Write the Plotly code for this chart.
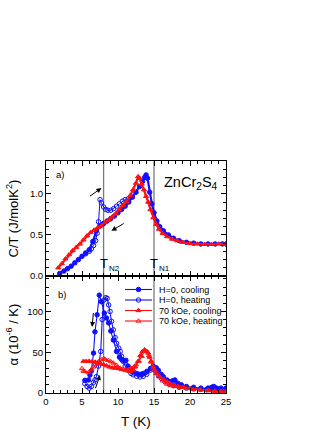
import plotly.graph_objects as go

# ---------------- data ----------------
# Panel a) C/T (J/molK^2) vs T (K)
T_ct_h0_cool = [1.9, 2.5, 3.0, 3.5, 4.0, 4.5, 5.0, 5.5, 6.0, 6.5, 7.0, 7.5, 8.0, 8.5, 9.0, 9.5,
                10.0, 10.5, 11.0, 11.5, 12.0, 12.5, 13.0, 13.4, 13.7, 13.9, 14.1, 14.4, 14.7,
                15.0, 15.4, 15.8, 16.3, 17.0, 17.7, 18.5, 19.5, 20.5, 21.5, 22.5, 23.5, 24.5, 25.0]
ct_h0_cool = [0.03, 0.06, 0.09, 0.12, 0.16, 0.20, 0.24, 0.28, 0.32, 0.42, 0.55, 0.61, 0.64, 0.67,
              0.70, 0.73, 0.77, 0.81, 0.85, 0.90, 0.96, 1.02, 1.09, 1.15, 1.20, 1.23, 1.19, 1.02,
              0.88, 0.77, 0.67, 0.60, 0.55, 0.50, 0.46, 0.43, 0.41, 0.40, 0.39, 0.39, 0.39, 0.39, 0.39]

T_ct_h0_heat = [5.5, 6.0, 6.3, 6.6, 6.9, 7.1, 7.3, 7.5, 7.7, 8.0, 8.3, 8.6, 9.0, 9.4, 9.8,
                10.2, 10.6, 11.0, 11.4, 11.8]
ct_h0_heat = [0.27, 0.30, 0.33, 0.37, 0.43, 0.52, 0.66, 0.93, 0.89, 0.84, 0.81, 0.80, 0.80,
              0.82, 0.85, 0.88, 0.91, 0.93, 0.94, 0.96]

T_ct_70k = [1.7, 2.2, 2.7, 3.2, 3.7, 4.2, 4.7, 5.2, 5.7, 6.2, 6.7, 7.2, 7.7, 8.2, 8.7, 9.2, 9.7,
            10.2, 10.7, 11.2, 11.7, 12.1, 12.5, 12.8, 13.0, 13.3, 13.6, 13.9, 14.2, 14.5, 14.9,
            15.3, 15.7, 16.2, 16.8, 17.5, 18.2, 19.0, 20.0, 21.0, 22.0, 23.0, 24.0, 25.0]
ct_70k = [0.10, 0.15, 0.21, 0.26, 0.31, 0.35, 0.39, 0.44, 0.49, 0.53, 0.56, 0.59, 0.61, 0.65,
          0.68, 0.72, 0.76, 0.81, 0.86, 0.91, 0.98, 1.05, 1.13, 1.21, 1.19, 1.12, 1.05, 0.97,
          0.90, 0.81, 0.71, 0.63, 0.57, 0.52, 0.48, 0.45, 0.43, 0.41, 0.395, 0.39, 0.385, 0.385,
          0.39, 0.39]

# Panel b) alpha (1e-6 / K) vs T (K)
T_a_h0_cool = [5.4, 5.9, 6.1, 6.3, 6.6, 6.8, 7.1, 7.4, 7.7, 8.1, 8.4, 8.7, 9.0, 9.35, 9.8, 10.2,
               10.5, 10.8, 11.1, 11.4, 11.8, 12.1, 12.6, 13.05, 13.5, 14.0, 14.5, 14.9, 15.3,
               15.6, 16.0, 16.3, 16.8, 17.2, 17.6, 17.9, 18.3, 18.8, 19.5, 20.5, 21.5, 22.5,
               23.0, 23.3, 23.7, 24.3, 25.0]
a_h0_cool = [15.5, 16, 22, 27, 49, 75, 96, 120, 112, 98, 92, 86, 76, 65, 51, 44, 41, 40, 40, 33,
             28, 26.5, 24, 23, 24, 26.5, 30, 33, 31, 28, 23, 20, 16, 14, 15, 16, 12, 10, 8, 7,
             6, 6, 7, 8, 6, 6, 6]

T_a_h0_heat = [5.4, 5.7, 6.0, 6.3, 6.6, 6.8, 7.0, 7.3, 7.6, 7.8, 8.05, 8.3, 8.5, 8.7, 8.9, 9.1,
               9.35, 9.6, 9.8, 10.1, 10.3, 10.5, 10.7, 11.0, 11.4, 11.8, 12.1, 12.6, 13.05, 13.5,
               14.0, 14.5, 14.9, 15.2, 15.6, 16.0, 16.5, 17.1, 17.7, 18.5, 19.5, 20.5, 21.5,
               22.3, 23.5, 25.0]
a_h0_heat = [11.4, 8, 6, 8, 13, 16, 20, 33, 51, 90, 114, 117, 116, 108, 100, 88, 77.5, 68, 61,
             55, 51, 45, 39, 33, 28.5, 24, 22.4, 20.5, 19.6, 20.5, 23, 28, 30, 27, 22, 18, 14,
             11, 9, 7, 6, 5, 4.5, 4, 3.5, 3]

T_a_70k_cool = [5.2, 5.6, 6.0, 6.4, 6.8, 7.2, 7.6, 8.0, 8.4, 8.8, 9.2, 9.6, 10.1, 10.5, 11.0,
                11.4, 11.7, 12.1, 12.4, 12.8, 13.1, 13.4, 13.7, 14.0, 14.2, 14.4, 14.6, 14.9,
                15.1, 15.4, 15.8, 16.3, 16.8, 17.2, 17.7, 18.3, 19.1, 20.0, 21.4, 22.5, 23.5,
                24.3, 25.0]
a_70k_cool = [39, 39, 39, 38.5, 38, 37, 36, 35, 33.5, 32, 31, 30.5, 30, 29, 28, 27, 26.5, 28,
              32, 39, 46, 51, 53, 51, 49, 44, 39, 32, 28, 24, 20, 17, 14, 12, 10, 8.5, 7, 5.5,
              4, 3, 2.5, 2, 2]

T_a_70k_heat = [5.0, 5.2, 5.4, 5.9, 6.3, 6.6, 6.8, 7.1, 7.3, 7.7, 8.0, 8.2, 8.65, 9.0, 9.35,
                9.8, 10.3, 10.7, 11.1, 11.5, 11.8, 12.2, 12.5, 12.9, 13.3, 13.7, 14.0, 14.3,
                14.6, 14.9, 15.3, 15.7, 16.2, 16.8, 17.3, 17.9, 18.7, 19.5, 20.5, 21.5, 22.5,
                23.5, 24.3, 25.0]
a_70k_heat = [30, 27, 26.5, 25, 28.5, 32, 34.7, 37, 38.7, 40.8, 42, 41.6, 40, 38.5, 36.8, 34,
              30.6, 29, 28.5, 29, 30.6, 32, 34.7, 39, 45, 52, 51, 46, 38, 30, 24, 20, 15, 11, 9,
              8, 7, 6, 4.5, 4, 3, 2, 1.5, 1]

T_transitions = [8, 15]            # T_N2, T_N1
transition_subs = ["N2", "N1"]
legend_labels = ["H=0, cooling", "H=0, heating", "70 kOe, cooling", "70 kOe, heating"]
x_ticks = [0, 5, 10, 15, 20, 25]

# ---------------- styling ----------------
BLUE = "#1010ff"
RED = "#ff1010"
FONT = "Liberation Sans, Arial, sans-serif"
styles = [
    dict(color=BLUE, symbol="circle"),
    dict(color=BLUE, symbol="circle-open"),
    dict(color=RED, symbol="triangle-up"),
    dict(color=RED, symbol="triangle-up-open"),
]

fig = go.Figure()

# panel a
def add_top(T, v, st, lw=2.2, ms=4.5):
    fig.add_trace(go.Scatter(
        x=T, y=v, mode="lines+markers", xaxis="x", yaxis="y", showlegend=False,
        line=dict(color=st["color"], width=lw),
        marker=dict(symbol=st["symbol"], size=ms, color=st["color"],
                    line=dict(color=st["color"], width=1)),
    ))

add_top(T_ct_h0_heat, ct_h0_heat, styles[1], lw=1.0, ms=4.5)
add_top(T_ct_h0_cool, ct_h0_cool, styles[0])
add_top(T_ct_70k, ct_70k, styles[2])

# panel b
for (T, v), st in zip([(T_a_h0_cool, a_h0_cool), (T_a_h0_heat, a_h0_heat),
                       (T_a_70k_cool, a_70k_cool), (T_a_70k_heat, a_70k_heat)], styles):
    fig.add_trace(go.Scatter(
        x=T, y=v, mode="lines+markers", xaxis="x2", yaxis="y2", showlegend=False,
        line=dict(color=st["color"], width=1.1),
        marker=dict(symbol=st["symbol"], size=4.5, color=st["color"],
                    line=dict(color=st["color"], width=1)),
    ))

# manual legend (pixel coordinates inside panel b, via hidden overlay axes)
leg_rows = [103.5, 93.0, 82.5, 72.0]
for row, st, lab in zip(leg_rows, styles, legend_labels):
    fig.add_trace(go.Scatter(
        x=[79, 106], y=[row, row], mode="lines", xaxis="x3", yaxis="y3", showlegend=False,
        line=dict(color=st["color"], width=1.1), hoverinfo="skip"))
    fig.add_trace(go.Scatter(
        x=[92.5], y=[row], mode="markers", xaxis="x3", yaxis="y3", showlegend=False,
        marker=dict(symbol=st["symbol"], size=4.5, color=st["color"],
                    line=dict(color=st["color"], width=1)), hoverinfo="skip"))
    fig.add_annotation(x=111, y=row, xref="x3", yref="y3", text=lab, showarrow=False,
                       xanchor="left", yanchor="middle",
                       font=dict(family=FONT, size=9, color="black"))

split = 117 / 232.0
axis_common = dict(showline=True, linecolor="black", linewidth=1, mirror="allticks",
                   ticks="inside", ticklen=5, tickwidth=1, tickcolor="black",
                   showgrid=False, zeroline=False, automargin=False,
                   tickfont=dict(family=FONT, size=9.5, color="black"))

fig.update_layout(
    width=332, height=430,
    margin=dict(l=46, r=106, t=161, b=37, autoexpand=False),
    paper_bgcolor="white", plot_bgcolor="white",
    font=dict(family=FONT, color="black"),
    showlegend=False,
    xaxis=dict(domain=[0, 1], anchor="y", range=[0, 25], tickvals=x_ticks, showticklabels=False,
               minor=dict(dtick=1, ticks="inside", ticklen=3, tickcolor="black"),
               matches="x2", **axis_common),
    yaxis=dict(domain=[split, 1], anchor="x", range=[0, 1.4], tickvals=[0, 0.5, 1.0],
               ticktext=["0.0", "0.5", "1.0"],
               minor=dict(dtick=0.1, ticks="inside", ticklen=3, tickcolor="black"),
               **axis_common),
    xaxis2=dict(domain=[0, 1], anchor="y2", range=[0, 25], tickvals=x_ticks,
                minor=dict(dtick=1, ticks="inside", ticklen=3, tickcolor="black"),
                **axis_common),
    yaxis2=dict(domain=[0, split], anchor="x2", range=[0, 143.5], tickvals=[0, 50, 100],
                minor=dict(dtick=10, ticks="inside", ticklen=3, tickcolor="black"),
                **axis_common),
    xaxis3=dict(domain=[0, 1], anchor="y3", range=[0, 180], visible=False, overlaying="x2",
                automargin=False),
    yaxis3=dict(domain=[0, split], anchor="x3", range=[0, 117], visible=False, overlaying="y2",
                automargin=False),
)

# transition lines across both panels
for Tt, sub in zip(T_transitions, transition_subs):
    fig.add_shape(type="line", xref="x", yref="paper", x0=Tt, x1=Tt, y0=0, y1=1,
                  line=dict(color="#7a7a7a", width=1.3), layer="below")
    fig.add_annotation(x=Tt, y=0.155, xref="x", yref="y", text="T", showarrow=False,
                       xanchor="center", yanchor="middle",
                       font=dict(family=FONT, size=13, color="black"))
    fig.add_annotation(x=Tt, y=0.09, xref="x", yref="y", text=sub,
                       showarrow=False, xanchor="left", yanchor="middle", xshift=3,
                       font=dict(family=FONT, size=8, color="black"))

# panel labels
fig.add_annotation(x=1.1, y=1.23, xref="x", yref="y", text="a)", showarrow=False,
                   xanchor="left", font=dict(family=FONT, size=9.5))
fig.add_annotation(x=1.4, y=121, xref="x2", yref="y2", text="b)", showarrow=False,
                   xanchor="left", font=dict(family=FONT, size=9.5))
fig.add_annotation(x=20.2, y=1.13, xref="x", yref="y", text="ZnCr<sub>2</sub>S<sub>4</sub>",
                   showarrow=False, xanchor="center", yanchor="middle",
                   font=dict(family=FONT, size=14.5))

# arrows
arrows = [
    ("x", "y", 5.9, 0.96, 7.7, 1.07),
    ("x", "y", 11.0, 0.65, 9.1, 0.55),
    ("x2", "y2", 6.6, 100, 6.4, 81),
    ("x2", "y2", 6.8, 4, 7.5, 22),
]
for xr, yr, x0, y0, x1, y1 in arrows:
    fig.add_annotation(x=x1, y=y1, ax=x0, ay=y0, xref=xr, yref=yr, axref=xr, ayref=yr,
                       text="", showarrow=True, arrowhead=2, arrowsize=1, arrowwidth=1,
                       arrowcolor="black")

# axis titles
fig.add_annotation(x=0, y=(1 + split) / 2, xref="paper", yref="paper", xshift=-34,
                   text="C/T (J/molK<sup>2</sup>)", textangle=-90, showarrow=False,
                   xanchor="center", yanchor="middle", font=dict(family=FONT, size=13))
fig.add_annotation(x=0, y=split / 2, xref="paper", yref="paper", xshift=-34,
                   text="α (10<sup>-6</sup> / K)", textangle=-90, showarrow=False,
                   xanchor="center", yanchor="middle", font=dict(family=FONT, size=13))
fig.add_annotation(x=0.5, y=0, xref="paper", yref="paper", yshift=-28,
                   text="T (K)", showarrow=False, xanchor="center", yanchor="middle",
                   font=dict(family=FONT, size=13.5))

fig.write_html("out.html", config={"displayModeBar": False},
               post_script="document.body.style.margin='0px';document.body.style.padding='0px';")
